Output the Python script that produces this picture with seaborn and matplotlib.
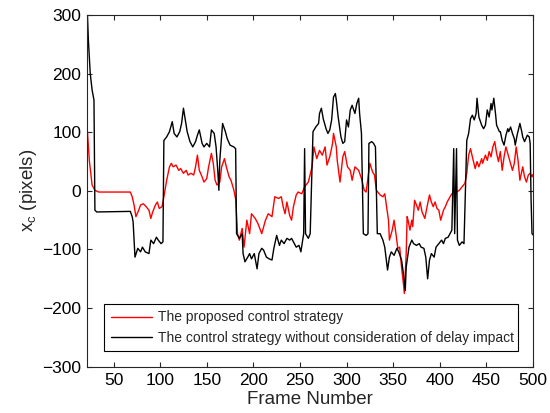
import numpy as np
import pandas as pd
import matplotlib
matplotlib.use("Agg")
import matplotlib.pyplot as plt
import seaborn as sns

# ---- data ----
red_frames = [22, 23, 24, 26, 27, 30, 34, 68, 70, 72, 74, 77, 79, 82, 85, 88, 90, 92, 95, 97, 99,
              102, 104, 107, 110, 112, 114, 117, 120, 122, 125, 128, 130, 133, 136, 138, 140, 142,
              145, 147, 150, 152, 155, 157, 159, 161, 164, 166, 169, 171, 174, 176, 179, 181, 183,
              185, 188, 190, 193, 196, 198, 202, 205, 209, 213, 216, 220, 223, 227, 230, 232, 234,
              236, 239, 241, 243, 246, 248, 252, 255, 259, 263, 265, 268, 271, 274, 277, 279, 282,
              285, 286, 289, 290, 293, 296, 298, 301, 304, 306, 309, 313, 316, 319, 321, 325, 328,
              330, 332, 336, 339, 341, 343, 345, 346, 349, 351, 353, 355, 357, 359, 361, 362, 364,
              365, 366, 368, 370, 371, 373, 375, 377, 379, 381, 384, 386, 389, 391, 393, 395, 397,
              399, 401, 404, 406, 408, 410, 413, 415, 418, 421, 424, 427, 429, 431, 433, 435, 438,
              440, 442, 445, 446, 449, 451, 453, 455, 457, 459, 461, 463, 465, 467, 469, 471, 474,
              476, 478, 480, 482, 484, 486, 489, 491, 493, 495, 497, 499, 500]
red_values = [101, 75, 52, 24, 10, 1, -2, -2, -10, -24, -44, -33, -24, -22, -27, -33, -47, -36, -24,
              -19, -30, -27, -10, 18, 41, 47, 41, 44, 35, 38, 30, 35, 27, 30, 27, 41, 61, 35, 24, 15,
              21, 41, 64, 47, 18, 10, 15, 41, 55, 41, 24, 18, 2, -14, -73, -84, -64, -96, -50, -73,
              -39, -47, -56, -73, -50, -39, -44, -10, -13, -10, -27, -39, -19, -42, -50, -27, -7, -2,
              -5, 7, 15, 41, 75, 55, 69, 61, 75, 44, 58, 81, 98, 75, 52, 15, 58, 67, 41, 35, 18, 41,
              35, 21, 1, -2, 47, 32, 27, 1, -7, -10, -5, -27, -50, -84, -67, -50, -73, -98, -96,
              -130, -158, -175, -107, -44, -50, -67, -50, -61, -16, -24, -33, -19, -36, -47, -30, -7,
              -19, -27, -19, -30, -33, -50, -33, -27, -19, -13, -5, -2, -2, 1, 7, 13, 30, 61, 72, 58,
              38, 50, 41, 55, 47, 61, 52, 67, 58, 75, 84, 64, 50, 67, 35, 58, 75, 58, 47, 35, 47, 75,
              52, 18, 41, 24, 15, 27, 30, 24, 28]

black_frames = [22, 23, 25, 27, 29, 30, 32, 68, 70, 71, 73, 76, 79, 81, 84, 88, 90, 93, 96, 98, 101,
                103, 104, 107, 110, 113, 115, 118, 121, 123, 125, 127, 129, 132, 135, 138, 140, 142,
                145, 147, 150, 153, 155, 158, 160, 162, 163, 164, 167, 170, 172, 175, 179, 181, 182,
                185, 188, 189, 191, 194, 196, 198, 201, 204, 206, 209, 211, 214, 217, 220, 222, 225,
                228, 230, 233, 236, 239, 241, 244, 246, 249, 251, 253, 254, 255, 256, 259, 261, 264,
                267, 270, 271, 273, 275, 278, 280, 282, 284, 286, 288, 289, 291, 294, 296, 298, 300,
                302, 304, 306, 309, 311, 313, 314, 316, 318, 321, 323, 324, 327, 329, 331, 333, 336,
                339, 341, 344, 346, 348, 351, 354, 356, 359, 361, 363, 364, 367, 370, 372, 375, 378,
                380, 383, 385, 387, 389, 391, 394, 396, 399, 402, 404, 406, 409, 411, 413, 415, 416,
                418, 419, 421, 424, 426, 429, 431, 433, 435, 437, 439, 440, 442, 445, 447, 449, 451,
                453, 455, 456, 458, 460, 461, 464, 465, 467, 469, 471, 473, 474, 476, 478, 480, 481,
                483, 486, 488, 489, 491, 494, 496, 497, 498, 499, 500]
black_values = [300, 257, 200, 172, 155, -33, -36, -35, -44, -53, -113, -98, -104, -96, -104, -107,
                -84, -90, -79, -84, -90, -87, 86, 92, 101, 118, 98, 92, 101, 115, 141, 121, 101, 84,
                75, 84, 95, 104, 81, 75, 81, 75, 104, 98, 75, 30, 1, 52, 115, 101, 89, 78, 75, 72,
                -73, -81, -73, -107, -121, -113, -107, -116, -107, -133, -107, -98, -101, -113, -116,
                -118, -98, -76, -93, -84, -90, -81, -84, -81, -90, -96, -93, -104, -84, -73, 72, -73,
                -81, -73, 101, 109, 115, 132, 141, 123, 106, 98, 104, 121, 160, 166, 155, 126, 92, 81,
                84, 121, 109, 138, 146, 132, 149, 158, 132, 98, -73, -76, -73, 81, 84, 81, 75, -73,
                -73, -84, -96, -135, -113, -104, -110, -98, -104, -118, -141, -170, -130, -96, -84,
                -90, -93, -90, -96, -98, -113, -150, -118, -107, -113, -96, -90, -84, -90, -81, -79,
                -73, -67, 72, -73, 72, -84, -93, -87, -90, 86, 98, 123, 129, 121, 132, 158, 126, 112,
                106, 112, 138, 126, 149, 138, 158, 129, 112, 101, 101, 86, 78, 95, 106, 101, 109, 98,
                89, 78, 95, 115, 101, 92, 84, 95, 92, 81, -16, -73, -75]

series_labels = ["The proposed control strategy",
                 "The control strategy without consideration of delay impact"]
x_ticks = [50, 100, 150, 200, 250, 300, 350, 400, 450, 500]
y_ticks = [-300, -200, -100, 0, 100, 200, 300]

df_red = pd.DataFrame({"frame": red_frames, "xc": red_values})
df_black = pd.DataFrame({"frame": black_frames, "xc": black_values})

sns.set_theme(style="white")
plt.rcParams["font.family"] = ["Liberation Sans", "DejaVu Sans"]
plt.rcParams["axes.unicode_minus"] = True

fig, ax = plt.subplots(figsize=(5.5, 4.13), dpi=100)
fig.subplots_adjust(left=0.159, right=0.969, top=0.9637, bottom=0.112)

sns.lineplot(data=df_red, x="frame", y="xc", ax=ax, color="#ff0000", lw=1.0,
             estimator=None, label=series_labels[0])
sns.lineplot(data=df_black, x="frame", y="xc", ax=ax, color="black", lw=1.0,
             estimator=None, label=series_labels[1])

ax.set_xlim(22, 500)
ax.set_ylim(-300, 300)
ax.set_xticks(x_ticks)
ax.set_yticks(y_ticks)
ax.set_xlabel("Frame Number", fontsize=13.5, labelpad=2)
ax.set_ylabel(r"$\mathregular{x_c}$ (pixels)", fontsize=13.5, labelpad=2)

for s in ax.spines.values():
    s.set_visible(True)
    s.set_color("#262626")
    s.set_linewidth(0.8)
ax.tick_params(axis="both", which="major", direction="in", length=3.6, width=0.8,
               color="#262626", labelsize=12.5, labelcolor="black",
               top=True, right=True, bottom=True, left=True, pad=4.5)

leg = ax.legend(loc="lower left", bbox_to_anchor=(0.038, 0.045, 0.928, 0.14),
                mode="expand", fontsize=10, frameon=True, fancybox=False,
                edgecolor="black", facecolor="white", framealpha=1.0,
                handlelength=3.0, handletextpad=0.4, labelspacing=0.45,
                borderpad=0.45, borderaxespad=0.0)
leg.get_frame().set_linewidth(0.8)

fig.savefig("out.png", dpi=100)
